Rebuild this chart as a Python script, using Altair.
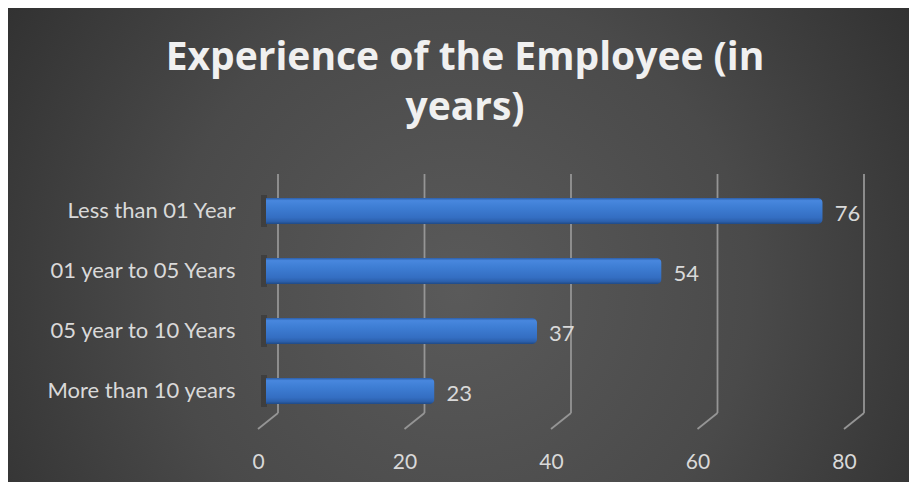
import altair as alt
import pandas as pd

categories = ["Less than 01 Year", "01 year to 05 Years", "05 year to 10 Years", "More than 10 years"]
values = [76, 54, 37, 23]
tick_values = [0, 20, 40, 60, 80]
title_lines = ["Experience of the Employee (in", "years)"]

W, H = 586, 240
PL, PT, PR, PB = 258, 173, 57, 61
TXT = "#d9d9d9"
FONT = "Lato"

df = pd.DataFrame({"category": categories, "value": values})
grid_df = pd.DataFrame({"v": tick_values})
bg_df = pd.DataFrame({"k": [0]})

x_scale = alt.Scale(domain=[0, 80], nice=False, zero=True)

bg = alt.Chart(bg_df).mark_rect(
    fill={
        "gradient": "radial",
        "x1": 0.5, "y1": 0.55, "r1": 0.0,
        "x2": 0.5, "y2": 0.55, "r2": 0.72,
        "stops": [
            {"offset": 0.0, "color": "#5a5a5a"},
            {"offset": 0.45, "color": "#4a4a4a"},
            {"offset": 1.0, "color": "#262626"},
        ],
    }
).encode(
    x=alt.value(-PL), x2=alt.value(W + PR),
    y=alt.value(-PT), y2=alt.value(H + PB),
)

grid_v = alt.Chart(grid_df).mark_rule(color="#959595", strokeWidth=1.8, xOffset=12).encode(
    x=alt.X("v:Q", scale=x_scale,
            axis=alt.Axis(title=None, values=tick_values, grid=False, ticks=False, domain=False,
                          labelPadding=30, labelOffset=-8, labelFlush=False, labelFontSize=21,
                          labelFont=FONT, labelColor=TXT, zindex=1)),
    y=alt.value(-7), y2=alt.value(232),
)

grid_d = alt.Chart(grid_df).mark_rule(color="#959595", strokeWidth=1.8, xOffset=12, x2Offset=-8).encode(
    x=alt.X("v:Q", scale=x_scale),
    x2="v:Q",
    y=alt.value(232), y2=alt.value(248),
)

y_enc = alt.Y("category:N", sort=categories,
              axis=alt.Axis(title=None, ticks=False, domain=False, grid=False, labelPadding=31,
                            labelFontSize=22, labelFont=FONT, labelColor=TXT, labelLimit=400,
                            zindex=1))

shadow = alt.Chart(df).mark_tick(color="#000000", opacity=0.2, thickness=6, size=32, xOffset=-2).encode(
    x=alt.X("x0:Q", scale=x_scale),
    y=y_enc,
).transform_calculate(x0="0")

bars = alt.Chart(df).mark_bar(
    size=26,
    cornerRadiusEnd=5,
    fill={
        "gradient": "linear",
        "x1": 0, "y1": 0, "x2": 0, "y2": 1,
        "stops": [
            {"offset": 0.0, "color": "#2c5ea8"},
            {"offset": 0.1, "color": "#4887de"},
            {"offset": 0.35, "color": "#3e7ed4"},
            {"offset": 0.75, "color": "#346ec2"},
            {"offset": 0.9, "color": "#2c60ac"},
            {"offset": 1.0, "color": "#1f4a86"},
        ],
    },
).encode(
    x=alt.X("value:Q", scale=x_scale),
    y=y_enc,
)

labels = alt.Chart(df).mark_text(align="left", baseline="middle", dx=12, dy=3,
                                 fontSize=22, font=FONT, color=TXT).encode(
    x=alt.X("value:Q", scale=x_scale),
    y=y_enc,
    text="value:Q",
)

chart = alt.layer(bg, grid_v, grid_d, shadow, bars, labels).properties(
    width=W, height=H,
    padding={"left": PL, "top": PT, "right": PR, "bottom": PB},
    autosize=alt.AutoSizeParams(type="none"),
    background="#2b2b2b",
    title=alt.TitleParams(text=title_lines, font="Open Sans", fontSize=39, fontWeight="bold",
                          color="#f0f0f0", lineHeight=50, anchor="middle", dx=-94,
                          baseline="alphabetic", offset=-151),
).configure_view(strokeWidth=0)

chart.save("out.html", embed_options={"renderer": "svg", "actions": False})
